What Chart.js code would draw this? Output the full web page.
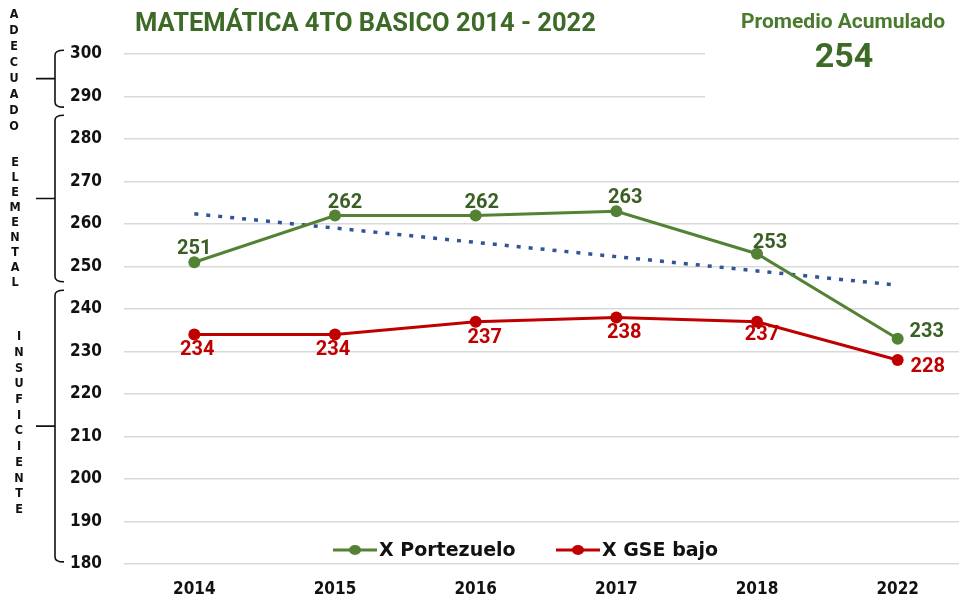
<!DOCTYPE html>
<html><head><meta charset="utf-8">
<script src="https://cdn.jsdelivr.net/npm/chart.js@4.4.1/dist/chart.umd.min.js"></script>
<style>
html,body{margin:0;padding:0;background:#fff;overflow:hidden;}
#wrap{position:relative;width:974px;height:604px;}
</style></head><body>
<div id="wrap"><canvas id="c"></canvas></div>
<script>
// ---- data ----
const years = ['2014','2015','2016','2017','2018','2022'];
const portezuelo = [251,262,262,263,253,233];
const gseBajo = [234,234,237,238,237,228];
const tendencia = [262.4,null,null,null,null,245.6];
const yTicks = [180,190,200,210,220,230,240,250,260,270,280,290,300];
const seriesNames = ['X Portezuelo','X GSE bajo'];
const titleText = 'MATEMÁTICA 4TO BASICO 2014 - 2022';
const promedioLabel = 'Promedio Acumulado';
const promedioValue = '254';
const bandNames = ['ADECUADO','ELEMENTAL','INSUFICIENTE'];
const bandTop = [300.9,285.6,244.4];
const bandBottom = [287.5,246.4,180.5];

// ---- styling / layout ----
const TICKFONT = '"DejaVu Sans Condensed", "DejaVu Sans", sans-serif';
const LBLFONT = 'Roboto, sans-serif';
const GREEN = '#548235', GREEN_D = '#3a5f24', RED = '#C00000', BLUE = '#2F5597';
const greenOff = [[0,-13],[10,-13],[6,-13],[9,-13],[13,-11],[29,-7]];
const redOff = [[3,15],[-2,15],[9,16],[8,15],[5,13],[30,7]];
const letterStart = [15,163,337];
const letterStep = [16,15,15.7];
const letterX = [14,15,19];

const deco = {
  id:'deco',
  beforeDatasetsDraw(chart){
    const ctx = chart.ctx;
    ctx.save(); ctx.fillStyle='#fff'; ctx.fillRect(705,0,300,112); ctx.restore();
  },
  afterDatasetsDraw(chart){
    const ctx = chart.ctx;
    ctx.save();
    ctx.font = 'bold 20px ' + LBLFONT;
    ctx.textAlign='center'; ctx.textBaseline='middle';
    const m0 = chart.getDatasetMeta(0), m1 = chart.getDatasetMeta(1);
    portezuelo.forEach((v,i)=>{
      const p = m0.data[i];
      ctx.fillStyle = GREEN_D;
      ctx.fillText(String(v), p.x+greenOff[i][0], p.y+greenOff[i][1]);
    });
    gseBajo.forEach((v,i)=>{
      const p = m1.data[i];
      ctx.fillStyle = RED;
      ctx.fillText(String(v), p.x+redOff[i][0], p.y+redOff[i][1]);
    });
    ctx.restore();
  },
  afterDraw(chart){
    const ctx = chart.ctx;
    const ys = chart.scales.y;
    ctx.save();
    // title
    ctx.fillStyle = '#3d6b27';
    ctx.font = 'bold 25.5px Roboto, sans-serif';
    ctx.textAlign='left'; ctx.textBaseline='middle';
    ctx.fillText(titleText, 135, 25);
    // promedio
    ctx.fillStyle = '#4a7a2e';
    ctx.textAlign='center';
    ctx.font = 'bold 21px Roboto, sans-serif';
    ctx.fillText(promedioLabel, 843, 23);
    ctx.fillStyle = '#3d6b27';
    ctx.font = 'bold 34px Roboto, sans-serif';
    ctx.fillText(promedioValue, 844, 58);
    // brackets
    ctx.strokeStyle = '#111'; ctx.lineWidth = 1.6;
    bandNames.forEach((name,k)=>{
      const t = ys.getPixelForValue(bandTop[k]);
      const b = ys.getPixelForValue(bandBottom[k]);
      const mid = (t+b)/2;
      const x = 55;
      ctx.beginPath();
      ctx.moveTo(64,t);
      ctx.quadraticCurveTo(x,t,x,t+5);
      ctx.lineTo(x,b-5);
      ctx.quadraticCurveTo(x,b,64,b);
      ctx.moveTo(36,mid); ctx.lineTo(x,mid);
      ctx.stroke();
      // vertical letters
      ctx.fillStyle = '#111';
      ctx.font = 'bold 12.5px ' + TICKFONT;
      ctx.textAlign='center'; ctx.textBaseline='middle';
      name.split('').forEach((ch,j)=>{
        ctx.fillText(ch, letterX[k], letterStart[k]+j*letterStep[k]);
      });
    });
    // legend
    const ly = 550;
    const items = [[333,377,355,379,GREEN],[556,600,578,602,RED]];
    items.forEach((it,i)=>{
      ctx.strokeStyle = it[4]; ctx.lineWidth = 3;
      ctx.beginPath(); ctx.moveTo(it[0],ly); ctx.lineTo(it[1],ly); ctx.stroke();
      ctx.fillStyle = it[4];
      ctx.beginPath(); ctx.ellipse(it[2],ly,6,5,0,0,Math.PI*2); ctx.fill();
      ctx.fillStyle = '#111';
      ctx.font = 'bold 19px "DejaVu Sans", sans-serif';
      ctx.textAlign='left'; ctx.textBaseline='middle';
      ctx.fillText(seriesNames[i], it[3], ly+1);
    });
    ctx.restore();
  }
};

new Chart(document.getElementById('c'), {
  type:'line',
  data:{
    labels: years,
    datasets:[
      {label:seriesNames[0], data:portezuelo, borderColor:GREEN, backgroundColor:GREEN,
       borderWidth:3, pointRadius:6, pointHoverRadius:6, pointBackgroundColor:GREEN, pointBorderWidth:0, tension:0},
      {label:seriesNames[1], data:gseBajo, borderColor:RED, backgroundColor:RED,
       borderWidth:3, pointRadius:6, pointHoverRadius:6, pointBackgroundColor:RED, pointBorderWidth:0, tension:0},
      {label:'Tendencia', data:tendencia, borderColor:BLUE, borderWidth:3.5, borderDash:[4,8],
       pointRadius:0, spanGaps:true, tension:0}
    ]
  },
  options:{
    responsive:true, maintainAspectRatio:false, animation:false,
    layout:{padding:{top:54,left:0,right:0,bottom:0}},
    plugins:{legend:{display:false}, tooltip:{enabled:false}, title:{display:false}},
    scales:{
      x:{offset:true, grid:{display:false, drawTicks:false}, border:{display:false},
         ticks:{color:'#111', padding:15, font:{family:TICKFONT, size:17, weight:'bold'}},
         afterFit(s){ s.height = 40; }},
      y:{min:180, max:300,
         afterBuildTicks(s){ s.ticks = yTicks.map(v=>({value:v})); },
         grid:{color:'#d9d9d9', lineWidth:1.5, drawTicks:false}, border:{display:false},
         ticks:{color:'#111', padding:22, font:{family:TICKFONT, size:17, weight:'bold'}},
         afterFit(s){ s.width = 124; }}
    }
  },
  plugins:[deco]
});
</script>
</body></html>
